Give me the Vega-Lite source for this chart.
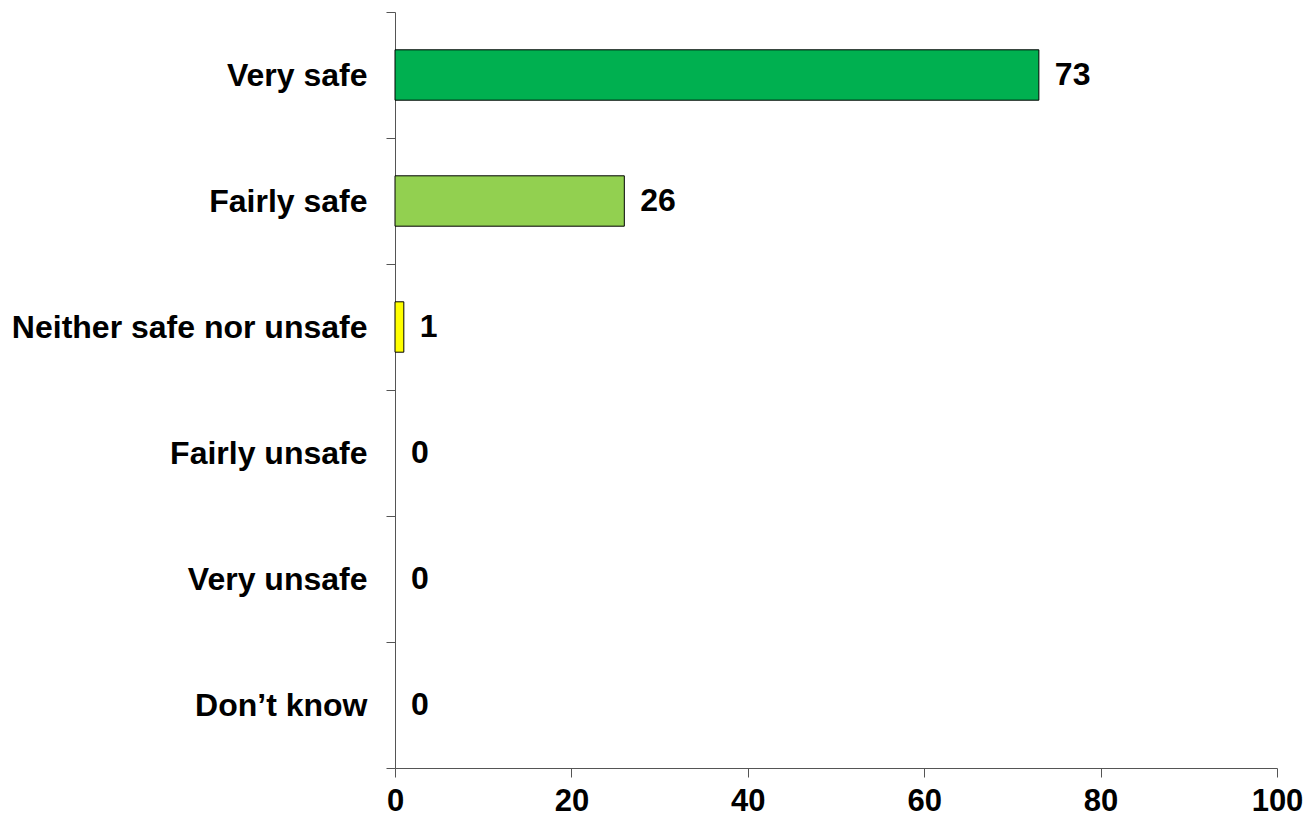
{
  "$schema": "https://vega.github.io/schema/vega-lite/v6.json",
  "width": 882,
  "height": 756,
  "autosize": {"type": "none"},
  "padding": {"left": 395, "top": 12, "right": 32, "bottom": 52},
  "background": "white",
  "config": {"view": {"stroke": null}, "font": "Liberation Sans"},
  "data": {
    "values": [
      {"category": "Very safe", "value": 73, "color": "#00B050"},
      {"category": "Fairly safe", "value": 26, "color": "#92D050"},
      {"category": "Neither safe nor unsafe", "value": 1, "color": "#FFFF00"},
      {"category": "Fairly unsafe", "value": 0, "color": "#FFC000"},
      {"category": "Very unsafe", "value": 0, "color": "#FF0000"},
      {"category": "Don’t know", "value": 0, "color": "#BFBFBF"}
    ]
  },
  "encoding": {
    "y": {
      "field": "category",
      "type": "nominal",
      "sort": null,
      "scale": {"paddingInner": 0, "paddingOuter": 0},
      "axis": {
        "title": null,
        "tickBand": "extent",
        "domainColor": "#555555",
        "tickColor": "#555555",
        "tickSize": 9,
        "labelFontSize": 32,
        "labelFontWeight": "bold",
        "labelColor": "black",
        "labelPadding": 19,
        "labelLimit": 500
      }
    },
    "x": {
      "field": "value",
      "type": "quantitative",
      "scale": {"domain": [0, 100], "nice": false},
      "axis": {
        "title": null,
        "values": [0, 20, 40, 60, 80, 100],
        "grid": false,
        "domainColor": "#555555",
        "tickColor": "#555555",
        "tickSize": 9,
        "labelFontSize": 31,
        "labelFontWeight": "bold",
        "labelColor": "black",
        "labelPadding": 9,
        "labelFlush": false
      }
    }
  },
  "layer": [
    {
      "transform": [{"filter": "datum.value > 0"}],
      "mark": {"type": "bar", "stroke": "black", "strokeWidth": 1, "height": {"band": 0.4}},
      "encoding": {
        "color": {"field": "color", "type": "nominal", "scale": null, "legend": null}
      }
    },
    {
      "mark": {"type": "text", "align": "left", "baseline": "middle", "dx": 16, "fontSize": 32, "fontWeight": "bold", "color": "black"},
      "encoding": {"text": {"field": "value", "type": "quantitative"}}
    }
  ]
}
